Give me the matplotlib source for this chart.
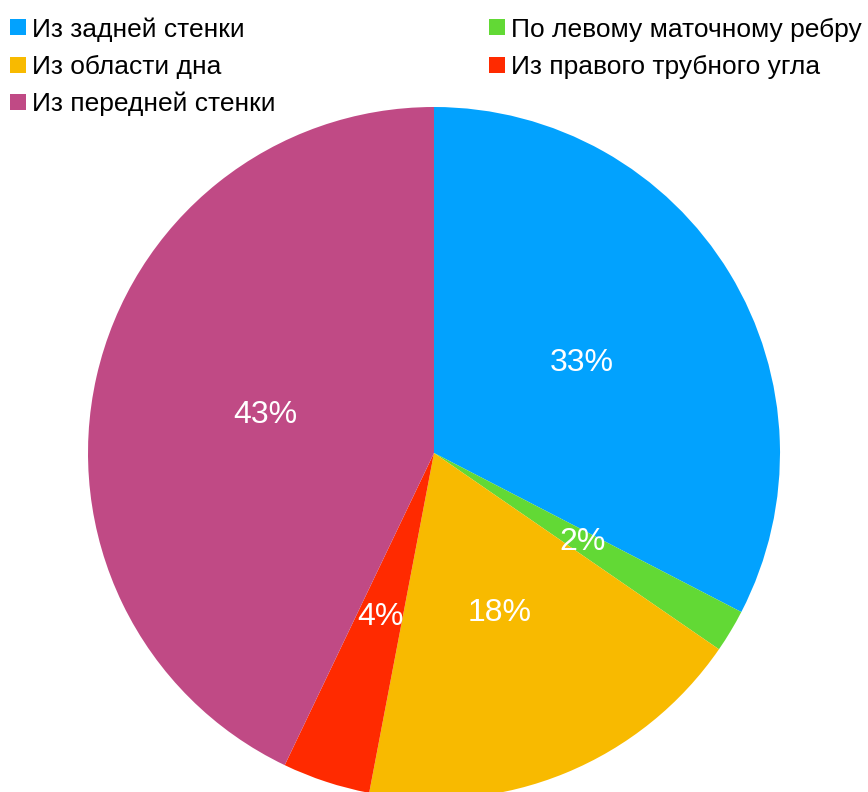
import matplotlib
matplotlib.use("Agg")
import matplotlib.pyplot as plt
from matplotlib.lines import Line2D

plt.rcParams["font.family"] = ["Liberation Sans", "DejaVu Sans"]

labels = [
    "Из задней стенки",
    "По левому маточному ребру",
    "Из области дна",
    "Из правого трубного угла",
    "Из передней стенки",
]
# shares (labels show them rounded)
values = [32.6, 2.0, 18.4, 4.1, 42.9]
colors = ["#02A2FE", "#62D935", "#F8BA00", "#FF2A00", "#C04A85"]

W, H = 868, 792
fig = plt.figure(figsize=(W / 100, H / 100), dpi=100)

# pie centre (434, 453) px, radius 346 px
cx, cy, r = 434, 453, 346
ax = fig.add_axes([(cx - r) / W, (H - cy - r) / H, 2 * r / W, 2 * r / H])
wedges, _, autotexts = ax.pie(
    values, colors=colors, startangle=90, counterclock=False,
    autopct="%.0f%%", pctdistance=0.5, radius=1,
    wedgeprops=dict(linewidth=0),
    textprops=dict(color="white", fontsize=23),
)
ax.set_xlim(-1, 1)
ax.set_ylim(-1, 1)
ax.set_aspect("equal")
ax.axis("off")

# legend, row-major like the original: reorder for column-major filling
order = [0, 2, 4, 1, 3]
handles = [Line2D([], [], marker="s", linestyle="none", markersize=11,
                  markerfacecolor=colors[i], markeredgewidth=0) for i in order]
fig.legend(
    handles, [labels[i] for i in order], ncol=2,
    loc="upper left", bbox_to_anchor=(10.7 / W, 1 - 17 / H),
    frameon=False, fontsize=19, borderpad=0, borderaxespad=0,
    handlelength=0.55, handletextpad=0.26, labelspacing=0.5,
    columnspacing=8.1,
)

fig.savefig("out.png", dpi=100)
